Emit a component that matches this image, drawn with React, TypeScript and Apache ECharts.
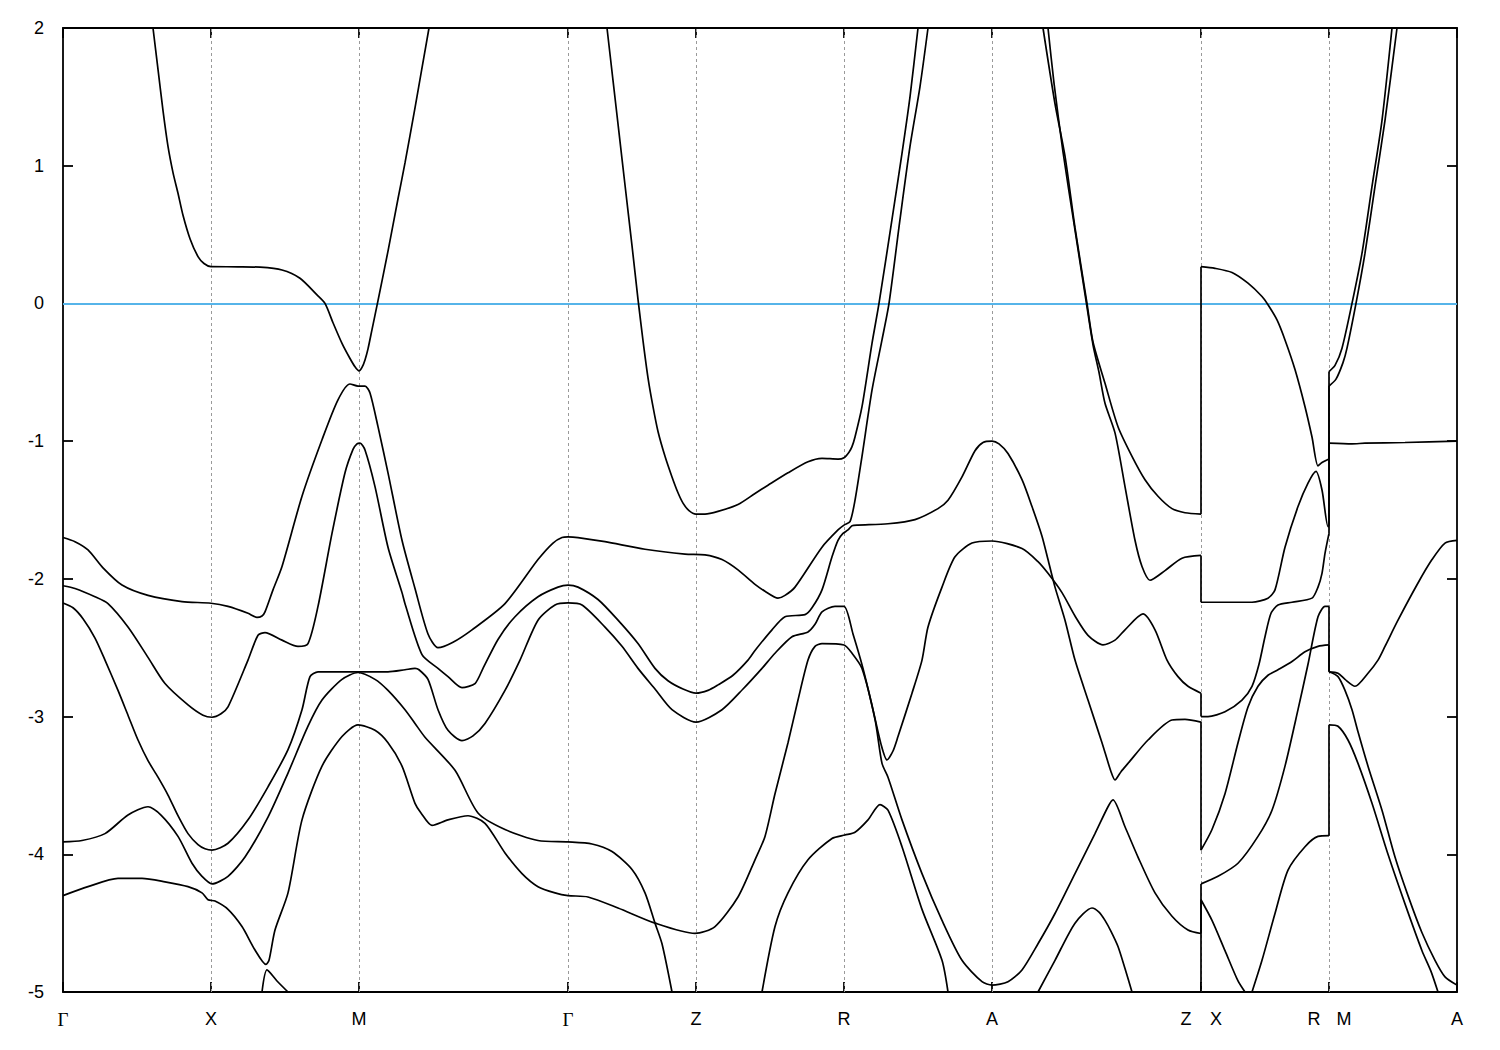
import React, { useEffect, useRef } from "react";
import * as echarts from "echarts";

// k-path positions (path distance, arbitrary units) and their labels
const kTicks = [0, 148, 296, 505, 633, 781, 929, 1138, 1266, 1394];
const kLabels = ["Γ", "X", "M", "Γ", "Z", "R", "A", "Z|X", "R|M", "A"];
const yTicks = [2, 1, 0, -1, -2, -3, -4, -5];
const fermiLevel = 0;

// Bands: [k, E(eV)]; equal consecutive k = jump at a path discontinuity
const bandA = [[90,2.0],[95,1.70],[100,1.40],[105,1.14],[110,0.95],[115,0.80],[120,0.64],[127,0.47],[135,0.34],[141,0.29],[148,0.267],[175,0.266],[197,0.263],[219,0.243],[237,0.183],[254,0.062],[262,0.0],[270,-0.14],[279,-0.29],[287,-0.40],[292,-0.46],[296,-0.49],[299,-0.465],[302,-0.41],[305,-0.33],[309,-0.19],[315,0.02],[325,0.38],[335,0.76],[342,1.02],[352,1.42],[359,1.71],[366,2.0]];

const bandA2 = [[544,2.0],[550,1.62],[556,1.24],[562,0.86],[569,0.42],[575,0.03],[580,-0.27],[585,-0.54],[590,-0.75],[595,-0.93],[602,-1.11],[609,-1.26],[615,-1.375],[620,-1.45],[626,-1.505],[633,-1.53],[642,-1.53],[655,-1.51],[675,-1.46],[692,-1.38],[705,-1.32],[725,-1.23],[745,-1.15],[759,-1.125],[775,-1.13],[781,-1.12],[786,-1.08],[789,-1.04],[792,-0.97],[799,-0.75],[809,-0.29],[816,0.0],[829,0.61],[839,1.09],[847,1.50],[855,2.0]];

const bandB = [[0,-1.70],[12,-1.73],[25,-1.79],[40,-1.92],[59,-2.045],[85,-2.12],[119,-2.165],[148,-2.177],[165,-2.20],[185,-2.25],[194,-2.28],[199,-2.27],[202,-2.24],[210,-2.08],[219,-1.91],[239,-1.40],[259,-0.99],[275,-0.70],[287,-0.585],[295,-0.60],[302,-0.60],[307,-0.65],[315,-0.895],[325,-1.23],[339,-1.72],[352,-2.07],[365,-2.40],[375,-2.50],[390,-2.46],[409,-2.37],[442,-2.18],[475,-1.86],[490,-1.74],[499,-1.70],[505,-1.695],[515,-1.70],[542,-1.73],[582,-1.785],[622,-1.82],[642,-1.826],[659,-1.86],[675,-1.935],[692,-2.04],[702,-2.09],[715,-2.14],[722,-2.12],[732,-2.06],[759,-1.77],[775,-1.645],[781,-1.61],[787,-1.585],[792,-1.43],[799,-1.11],[809,-0.63],[819,-0.265],[826,0.0],[837,0.61],[847,1.14],[857,1.575],[865,2.0]];

const bandC = [[0,-2.05],[12,-2.07],[32,-2.13],[45,-2.18],[65,-2.35],[85,-2.57],[102,-2.76],[125,-2.915],[140,-2.99],[149,-3.005],[158,-2.98],[165,-2.93],[185,-2.59],[195,-2.41],[202,-2.39],[219,-2.445],[235,-2.49],[245,-2.47],[255,-2.20],[269,-1.67],[282,-1.23],[290,-1.06],[294,-1.02],[297,-1.015],[302,-1.064],[312,-1.33],[325,-1.77],[339,-2.10],[342,-2.18],[359,-2.55],[375,-2.65],[385,-2.71],[399,-2.79],[412,-2.76],[420,-2.65],[435,-2.44],[452,-2.275],[475,-2.13],[495,-2.06],[505,-2.045],[515,-2.06],[535,-2.15],[555,-2.30],[575,-2.47],[592,-2.65],[605,-2.74],[620,-2.80],[633,-2.83],[645,-2.81],[655,-2.77],[670,-2.70],[685,-2.59],[692,-2.52],[709,-2.37],[722,-2.275],[742,-2.26],[749,-2.21],[759,-2.08],[769,-1.84],[775,-1.72],[780,-1.67],[785,-1.645],[789,-1.615],[795,-1.61],[825,-1.60],[852,-1.57],[875,-1.49],[885,-1.43],[899,-1.26],[912,-1.07],[920,-1.01],[929,-1.00],[936,-1.02],[945,-1.09],[959,-1.28],[969,-1.475],[979,-1.69],[985,-1.86],[992,-2.06],[1002,-2.30],[1012,-2.59],[1025,-2.88],[1039,-3.19],[1048,-3.40],[1052,-3.46],[1058,-3.40],[1065,-3.34],[1085,-3.17],[1109,-3.025],[1122,-3.02],[1138,-3.04],[1138,-3.97],[1149,-3.82],[1162,-3.56],[1175,-3.19],[1185,-2.93],[1195,-2.78],[1205,-2.70],[1215,-2.66],[1229,-2.60],[1242,-2.53],[1255,-2.49],[1266,-2.48],[1266,-2.675],[1275,-2.71],[1282,-2.81],[1289,-2.95],[1295,-3.11],[1305,-3.36],[1319,-3.68],[1332,-4.02],[1345,-4.30],[1359,-4.57],[1372,-4.77],[1382,-4.89],[1394,-4.95]];

const bandD = [[0,-2.175],[10,-2.21],[20,-2.29],[32,-2.43],[42,-2.59],[55,-2.81],[65,-2.99],[75,-3.17],[85,-3.32],[95,-3.44],[105,-3.57],[115,-3.72],[125,-3.85],[135,-3.93],[142,-3.96],[149,-3.97],[165,-3.92],[185,-3.75],[205,-3.51],[225,-3.24],[239,-2.95],[247,-2.71],[255,-2.675],[290,-2.675],[325,-2.675],[342,-2.66],[352,-2.65],[356,-2.66],[365,-2.73],[375,-2.95],[385,-3.10],[399,-3.175],[410,-3.14],[422,-3.05],[442,-2.81],[457,-2.59],[475,-2.30],[492,-2.19],[505,-2.175],[519,-2.19],[542,-2.35],[559,-2.49],[575,-2.65],[592,-2.80],[609,-2.95],[633,-3.04],[659,-2.95],[680,-2.80],[699,-2.65],[712,-2.54],[729,-2.42],[745,-2.385],[752,-2.33],[759,-2.24],[772,-2.20],[781,-2.20],[790,-2.40],[800,-2.65],[810,-2.95],[818,-3.20],[824,-3.315],[830,-3.25],[835,-3.145],[849,-2.83],[859,-2.59],[865,-2.35],[879,-2.06],[892,-1.84],[909,-1.74],[929,-1.725],[959,-1.78],[975,-1.875],[985,-1.96],[999,-2.10],[1012,-2.27],[1025,-2.41],[1040,-2.48],[1052,-2.445],[1062,-2.37],[1080,-2.255],[1092,-2.37],[1104,-2.59],[1115,-2.71],[1125,-2.78],[1138,-2.83],[1138,-3.0],[1145,-3.0],[1162,-2.965],[1179,-2.88],[1189,-2.78],[1196,-2.62],[1202,-2.42],[1208,-2.25],[1215,-2.19],[1229,-2.17],[1249,-2.14],[1255,-2.06],[1259,-1.96],[1262,-1.815],[1266,-1.67],[1266,-1.015],[1289,-1.02],[1302,-1.015],[1342,-1.01],[1394,-1.00]];

const bandE1 = [[0,-3.91],[19,-3.90],[42,-3.85],[65,-3.715],[85,-3.655],[98,-3.715],[115,-3.87],[129,-4.065],[139,-4.16],[149,-4.215],[165,-4.16],[182,-4.02],[205,-3.73],[225,-3.41],[245,-3.07],[259,-2.88],[279,-2.73],[295,-2.68],[312,-2.73],[325,-2.81],[342,-2.95],[352,-3.05],[362,-3.15],[392,-3.39],[415,-3.70],[442,-3.82],[475,-3.90],[505,-3.91],[529,-3.925],[549,-3.98],[569,-4.11],[582,-4.28],[592,-4.50],[599,-4.65],[609,-5.0]];

const bandE2 = [[699,-5.0],[712,-4.525],[725,-4.28],[745,-4.04],[769,-3.885],[782,-3.86],[792,-3.84],[805,-3.75],[817,-3.64],[825,-3.68],[839,-3.945],[859,-4.40],[879,-4.77],[885,-5.0]];

const bandF = [[0,-4.30],[25,-4.235],[55,-4.175],[79,-4.175],[102,-4.20],[125,-4.235],[139,-4.28],[145,-4.33],[152,-4.34],[165,-4.40],[179,-4.525],[192,-4.695],[203,-4.80],[206,-4.77],[212,-4.55],[225,-4.28],[239,-3.75],[259,-3.36],[279,-3.145],[295,-3.06],[312,-3.10],[325,-3.19],[339,-3.36],[352,-3.63],[358,-3.70],[369,-3.79],[385,-3.75],[405,-3.72],[422,-3.775],[442,-3.99],[459,-4.14],[475,-4.235],[492,-4.28],[505,-4.30],[525,-4.31],[555,-4.39],[592,-4.50],[632,-4.575],[652,-4.525],[675,-4.31],[692,-4.04],[702,-3.87],[712,-3.56],[725,-3.19],[735,-2.88],[745,-2.59],[752,-2.49],[759,-2.47],[781,-2.48],[789,-2.54],[799,-2.65],[812,-3.02],[819,-3.34],[825,-3.44],[839,-3.75],[859,-4.14],[879,-4.48],[899,-4.77],[919,-4.925],[929,-4.95],[945,-4.925],[959,-4.84],[975,-4.65],[992,-4.43],[1012,-4.14],[1032,-3.85],[1045,-3.655],[1050,-3.605],[1062,-3.80],[1075,-4.02],[1092,-4.28],[1109,-4.45],[1125,-4.55],[1138,-4.575],[1138,-4.215],[1155,-4.16],[1175,-4.065],[1195,-3.87],[1209,-3.68],[1222,-3.36],[1235,-2.95],[1245,-2.62],[1255,-2.275],[1262,-2.20],[1266,-2.20],[1266,-2.675],[1275,-2.685],[1282,-2.73],[1292,-2.78],[1305,-2.685],[1315,-2.59],[1322,-2.49],[1335,-2.30],[1355,-2.03],[1369,-1.86],[1382,-1.74],[1394,-1.72]];

const bandG = [[199,-5.0],[204,-4.84],[214,-4.92],[225,-5.0]];

const bandH = [[975,-5.0],[992,-4.77],[1012,-4.50],[1029,-4.39],[1036,-4.42],[1042,-4.48],[1048,-4.56],[1055,-4.67],[1062,-4.83],[1069,-5.0]];

const bandI = [[1138,-5.0],[1138,-4.33],[1149,-4.48],[1162,-4.70],[1175,-4.92],[1182,-5.0]];

const bandJ = [[1189,-5.0],[1199,-4.77],[1212,-4.43],[1225,-4.115],[1242,-3.945],[1255,-3.87],[1266,-3.865],[1266,-3.06],[1275,-3.07],[1285,-3.17],[1295,-3.34],[1309,-3.63],[1325,-4.00],[1342,-4.36],[1359,-4.70],[1368,-4.85],[1375,-5.0]];

const bandL1 = [[980,2.0],[992,1.45],[1002,1.07],[1012,0.55],[1024,0.0],[1030,-0.28],[1042,-0.58],[1055,-0.895],[1069,-1.11],[1082,-1.28],[1095,-1.40],[1109,-1.49],[1122,-1.52],[1138,-1.53],[1138,0.267],[1152,0.255],[1169,0.225],[1185,0.147],[1199,0.05],[1205,-0.01],[1214,-0.12],[1222,-0.265],[1232,-0.48],[1242,-0.75],[1249,-0.97],[1255,-1.18],[1259,-1.155],[1266,-1.13],[1266,-0.495],[1272,-0.45],[1279,-0.325],[1289,0.0],[1299,0.365],[1309,0.85],[1319,1.33],[1329,2.0]];

const bandL2 = [[985,2.0],[991,1.6],[1000,1.1],[1011,0.58],[1023,0.02],[1030,-0.30],[1036,-0.50],[1042,-0.725],[1052,-0.94],[1062,-1.33],[1072,-1.72],[1079,-1.91],[1087,-2.01],[1102,-1.94],[1119,-1.85],[1138,-1.83],[1138,-2.17],[1160,-2.17],[1189,-2.17],[1205,-2.14],[1212,-2.08],[1222,-1.77],[1235,-1.475],[1245,-1.305],[1253,-1.22],[1259,-1.355],[1265,-1.62],[1266,-1.62],[1266,-0.60],[1273,-0.55],[1280,-0.43],[1284,-0.325],[1293,0.0],[1302,0.365],[1312,0.85],[1322,1.33],[1334,2.0]];

const bands = [bandA, bandA2, bandB, bandC, bandD, bandE1, bandE2, bandF, bandG, bandH, bandI, bandJ, bandL1, bandL2];

function splitRuns(pts: number[][]) {
  const runs: number[][][] = [];
  const jumps: number[][][] = [];
  let cur: number[][] = [pts[0]];
  for (let i = 1; i < pts.length; i++) {
    if (pts[i][0] === pts[i - 1][0]) {
      runs.push(cur);
      jumps.push([pts[i - 1], pts[i]]);
      cur = [pts[i]];
    } else cur.push(pts[i]);
  }
  runs.push(cur);
  return { runs, jumps };
}

export default function App() {
  const ref = useRef<HTMLDivElement>(null);
  useEffect(() => {
    if (!ref.current) return;
    const chart = echarts.init(ref.current, undefined, { renderer: "svg" });
    const font = "Liberation Sans, Arial, sans-serif";
    const serif = "Liberation Serif, Times New Roman, serif";
    const lineSeries: any[] = [];
    bands.forEach((b) => {
      const { runs, jumps } = splitRuns(b);
      runs.forEach((r) =>
        lineSeries.push({
          type: "line", data: r, smooth: 0.25, showSymbol: false, symbol: "none",
          lineStyle: { color: "#000", width: 1.7 }, silent: true, z: 3, clip: true,
        })
      );
      jumps.forEach((j) =>
        lineSeries.push({
          type: "line", data: j, showSymbol: false, symbol: "none",
          lineStyle: { color: "#000", width: 1.7 }, silent: true, z: 3, clip: true,
        })
      );
    });
    const interior = kTicks.slice(1, -1);
    const guide = {
      type: "line", data: [], silent: true, z: 1,
      markLine: {
        z: 1, silent: true, symbol: ["none", "none"], label: { show: false },
        lineStyle: { color: "#9a9a9a", type: [3, 3], width: 1 },
        data: interior.map((k) => ({ xAxis: k })),
      },
    };
    const zero = {
      type: "line", data: [], silent: true, z: 2,
      markLine: {
        z: 2, silent: true, symbol: ["none", "none"], label: { show: false },
        lineStyle: { color: "#56B4E9", type: "solid", width: 1.8 },
        data: [{ yAxis: fermiLevel }],
      },
    };
    const labelFor = (v: number) => {
      const i = kTicks.indexOf(Math.round(v));
      if (i < 0) return "";
      const l = kLabels[i];
      if (l.includes("|")) {
        const [a, b] = l.split("|");
        return `{p|${a}}{q|${b}}`;
      }
      if (l === "Γ") return `{g|${l}}`;
      return l;
    };
    const axisLineStyle = { color: "#000", width: 1.8 };
    chart.setOption({
      animation: false,
      backgroundColor: "#fff",
      grid: { left: 63, right: 43, top: 28, bottom: 58, containLabel: false },
      xAxis: [
        {
          type: "value", min: 0, max: 1394, position: "bottom",
          axisLine: { show: true, onZero: false, lineStyle: axisLineStyle },
          axisTick: { show: true, inside: true, length: 10, customValues: kTicks, lineStyle: { color: "#000", width: 1.8 } },
          axisLabel: {
            show: true, customValues: kTicks, formatter: labelFor, margin: 18,
            color: "#000", fontSize: 18, fontFamily: font,
            rich: {
              p: { width: 30, align: "center", fontSize: 18, fontFamily: font, color: "#000" },
              q: { width: 30, align: "center", fontSize: 18, fontFamily: font, color: "#000" },
              g: { fontSize: 19, fontFamily: serif, color: "#000" },
            },
          },
          splitLine: { show: false },
        },
        {
          type: "value", min: 0, max: 1394, position: "top",
          axisLine: { show: true, onZero: false, lineStyle: axisLineStyle },
          axisTick: { show: true, inside: true, length: 10, customValues: kTicks, lineStyle: { color: "#000", width: 1.8 } },
          axisLabel: { show: false },
          splitLine: { show: false },
        },
      ],
      yAxis: [
        {
          type: "value", min: -5, max: 2, interval: 1, position: "left",
          axisLine: { show: true, onZero: false, lineStyle: axisLineStyle },
          axisTick: { show: true, inside: true, length: 10, lineStyle: { color: "#000", width: 1.8 } },
          axisLabel: { show: true, color: "#000", fontSize: 18, fontFamily: font, margin: 19,
            formatter: (v: number) => (yTicks.includes(v) ? String(v) : "") },
          splitLine: { show: false },
        },
        {
          type: "value", min: -5, max: 2, interval: 1, position: "right",
          axisLine: { show: true, onZero: false, lineStyle: axisLineStyle },
          axisTick: { show: true, inside: true, length: 10, lineStyle: { color: "#000", width: 1.8 } },
          axisLabel: { show: false },
          splitLine: { show: false },
        },
      ],
      series: [guide, zero, ...lineSeries],
    });
    return () => chart.dispose();
  }, []);
  return (
    <div
      ref={ref}
      style={{ position: "fixed", left: 0, top: 0, width: 1500, height: 1050, background: "#fff" }}
    />
  );
}
